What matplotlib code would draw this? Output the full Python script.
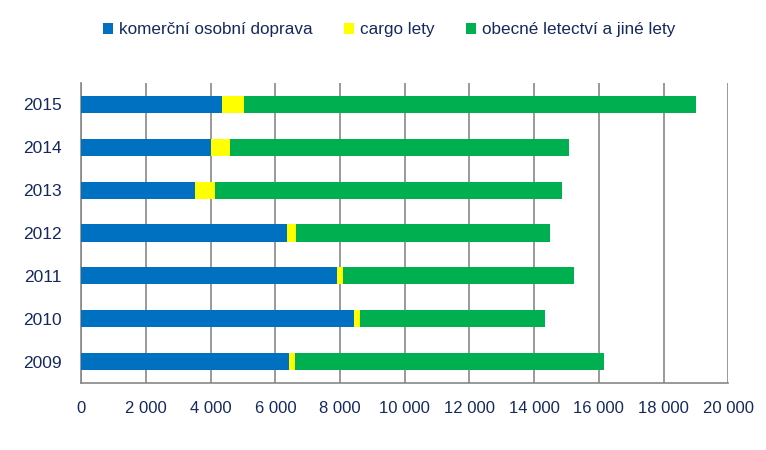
import matplotlib
matplotlib.use("Agg")
import matplotlib.pyplot as plt
import numpy as np

plt.rcParams["font.family"] = ["Liberation Sans", "DejaVu Sans"]

years = ["2009", "2010", "2011", "2012", "2013", "2014", "2015"]
komercni = [6420, 8430, 7900, 6360, 3515, 4010, 4350]
cargo = [185, 185, 190, 280, 615, 585, 680]
obecne = [9550, 5720, 7140, 7850, 10730, 10480, 13970]

series_names = ["komerční osobní doprava", "cargo lety", "obecné letectví a jiné lety"]
colors = ["#0070C0", "#FFFF00", "#00B050"]
TXT = "#15295E"
GRID = "#878787"

fig = plt.figure(figsize=(7.66, 4.5), dpi=100)
ax = fig.add_axes([0.1061, 0.149, 0.8447, 0.6667])

y = np.arange(len(years))
left = np.zeros(len(years))
handles = []
for vals, name, c in zip([komercni, cargo, obecne], series_names, colors):
    h = ax.barh(y, vals, left=left, height=0.4, color=c, label=name, zorder=3)
    handles.append(h)
    left = left + np.array(vals)

ax.set_xlim(0, 20000)
ax.set_ylim(-0.5, 6.5)
ax.set_xticks(np.arange(0, 20001, 2000))
ax.set_xticklabels([f"{v:,}".replace(",", " ") for v in range(0, 20001, 2000)])
ax.set_yticks(y)
ax.set_yticklabels(years)
ax.tick_params(axis="both", colors=TXT, labelsize=12.5, length=0)
ax.tick_params(axis="x", labelsize=12, pad=13)
ax.tick_params(axis="y", pad=14)
ax.grid(axis="x", color=GRID, linewidth=1.2, zorder=0)
for s in ["top", "right"]:
    ax.spines[s].set_visible(False)
for s in ["left", "bottom"]:
    ax.spines[s].set_color(GRID)
    ax.spines[s].set_linewidth(1.2)

fig.legend(handles=handles, labels=series_names, loc="center", bbox_to_anchor=(0.508, 0.934),
           ncol=3, frameon=False, fontsize=12.3, labelcolor=TXT,
           handlelength=0.6, handleheight=0.6, handletextpad=0.32, columnspacing=1.85)

plt.savefig("out.png", dpi=100)
